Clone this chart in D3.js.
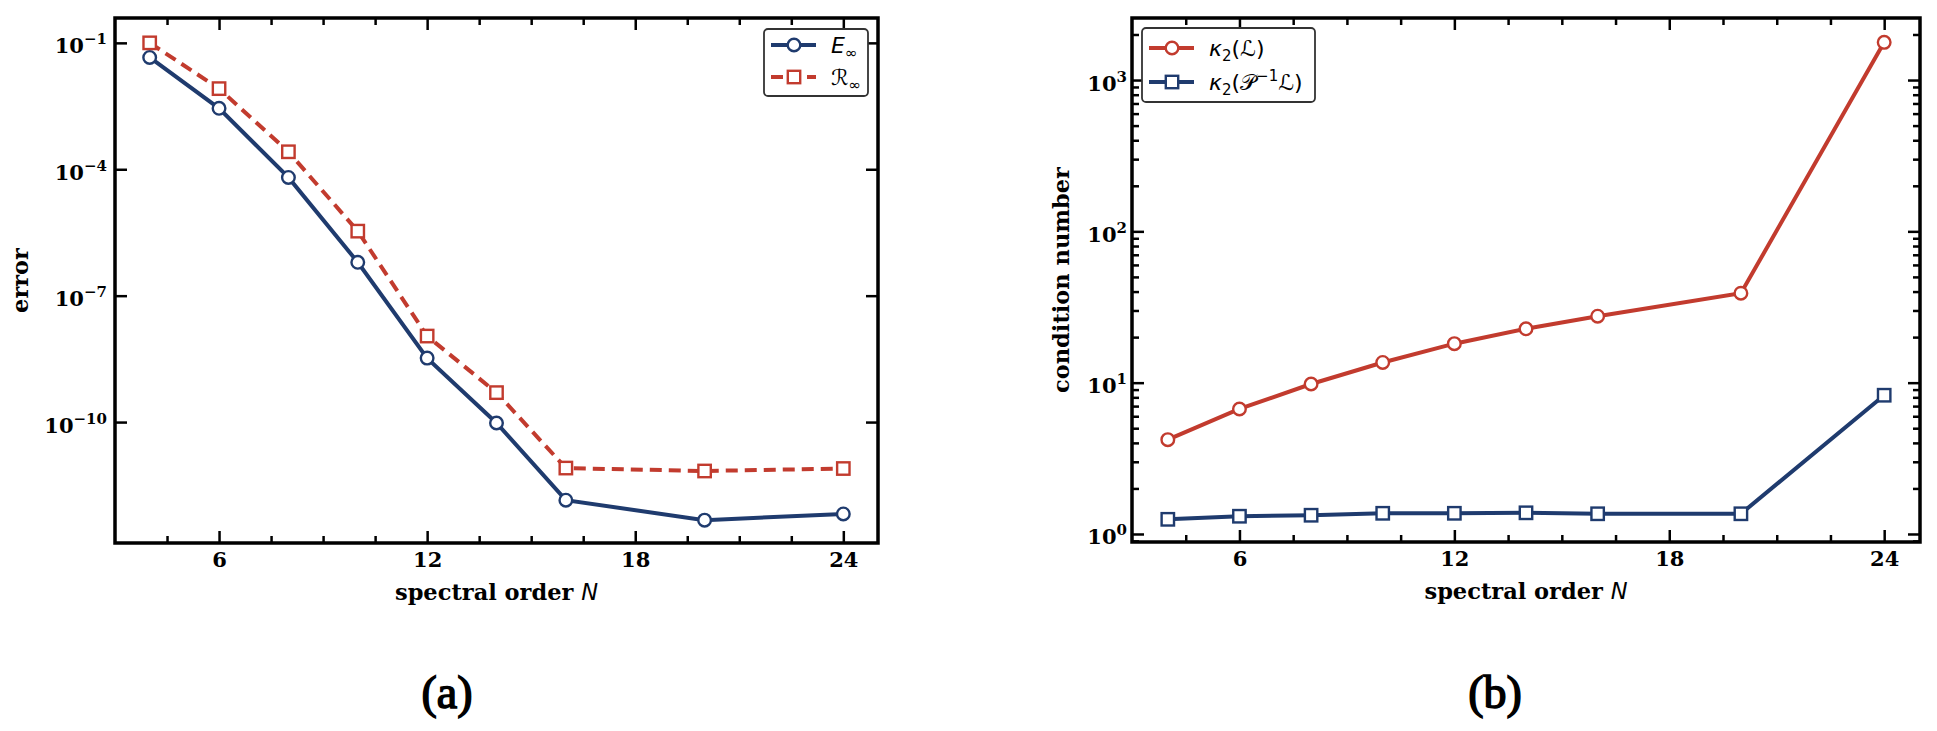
<!doctype html>
<meta charset="utf-8" />
<style>
    body { margin: 0; background: #fff; }
    svg text { font-family: "DejaVu Serif"; font-weight: bold; fill: #000; }
    svg .leg text { font-family: "DejaVu Sans"; font-weight: normal; }
</style>
<svg></svg>

<script src="https://cdn.jsdelivr.net/npm/d3@7/dist/d3.min.js"></script>

<script>
    // data
    var orders = [4, 6, 8, 10, 12, 14, 16, 20, 24];
    var errE = [4.5e-2, 2.8e-3, 6.4e-5, 6.2e-7, 3.3e-9, 9.5e-11, 1.4e-12, 4.7e-13, 6.6e-13];
    var errR = [1.0e-1, 8.2e-3, 2.6e-4, 3.4e-6, 1.1e-8, 5.0e-10, 8.1e-12, 6.9e-12, 7.9e-12];
    var kappaL = [4.2, 6.7, 9.8, 13.6, 18.1, 22.7, 27.5, 39, 1775];
    var kappaPL = [1.25, 1.31, 1.33, 1.37, 1.37, 1.38, 1.36, 1.36, 8.26];

    var xTicks = [6, 12, 18, 24];
    var xMinor = [4.5, 7.5, 9, 10.5, 13.5, 15, 16.5, 19.5, 21, 22.5];
    var errTicks = [1e-1, 1e-4, 1e-7, 1e-10];
    var condTicks = [1, 10, 100, 1000];
    var condMinor = [];
    [0.1, 1, 10, 100, 1000].forEach(function (d) {
        for (var k = 2; k <= 9; k++) condMinor.push(d * k);
    });

    var blue = '#1f3b6e';
    var red = '#c23b2e';

    var svg = d3.select('svg')
        .attr('width', 1937)
        .attr('height', 731)

    function supLabel(sel) {
        sel.selectAll('.tick text').each(function (d) {
            var e = Math.round(Math.log10(d));
            var t = d3.select(this).text('');
            t.append('tspan').text('10');
            t.append('tspan').attr('dy', -9).style('font-size', '15px')
                .text(String(e).replace('-', '\u2212'));
        })
    }

    function panel(opt) {
        var x = d3.scaleLinear().domain([3, 25]).range([opt.left, opt.right]);
        var y = d3.scaleLog().domain(opt.ydom).range([opt.bottom, opt.top]);
        var g = svg.append('g');

        // inward ticks on all four sides
        var ax = [
            [d3.axisBottom(x), 'translate(0,' + opt.bottom + ')', true],
            [d3.axisTop(x), 'translate(0,' + opt.top + ')', false]
        ];
        ax.forEach(function (a) {
            g.append('g').attr('transform', a[1])
                .call(a[0].tickValues(xMinor).tickFormat('').tickSizeInner(-7).tickSizeOuter(0));
            var m = g.append('g').attr('transform', a[1])
                .call(a[0].tickValues(xTicks).tickFormat(a[2] ? d3.format('d') : '').tickSizeInner(-12).tickSizeOuter(0).tickPadding(9));
            if (a[2]) m.selectAll('text').style('font-size', '21px');
        });

        var ay = [
            [d3.axisLeft(y), 'translate(' + opt.left + ',0)', true],
            [d3.axisRight(y), 'translate(' + opt.right + ',0)', false]
        ];
        ay.forEach(function (a) {
            if (opt.yMinor) {
                g.append('g').attr('transform', a[1])
                    .call(a[0].tickValues(opt.yMinor.filter(function (v) {
                        return v >= opt.ydom[0] && v <= opt.ydom[1];
                    })).tickFormat('').tickSizeInner(-7).tickSizeOuter(0));
            }
            var m = g.append('g').attr('transform', a[1])
                .call(a[0].tickValues(opt.yTicks).tickSizeInner(-12).tickSizeOuter(0).tickPadding(opt.pad));
            if (a[2]) {
                m.selectAll('text').style('font-size', '21px').attr('dy', 10);
                supLabel(m);
            } else {
                m.selectAll('text').remove();
            }
        });

        g.selectAll('.domain').remove();
        g.selectAll('.tick line').attr('stroke', '#000').attr('stroke-width', 2.5);

        g.append('rect')
            .attr('x', opt.left).attr('y', opt.top)
            .attr('width', opt.right - opt.left).attr('height', opt.bottom - opt.top)
            .attr('fill', 'none').attr('stroke', '#000').attr('stroke-width', 3.5);

        // axis titles
        var xl = g.append('text')
            .attr('x', (opt.left + opt.right) / 2).attr('y', opt.bottom + 57)
            .attr('text-anchor', 'middle').style('font-size', '22.5px');
        xl.append('tspan').text('spectral order ');
        xl.append('tspan').style('font-family', 'DejaVu Sans').style('font-weight', 'normal')
            .style('font-style', 'italic').text('N');

        g.append('text')
            .attr('transform', 'translate(' + opt.ylabX + ',' + (opt.top + opt.bottom) / 2 + ') rotate(-90)')
            .attr('text-anchor', 'middle').style('font-size', '22.5px')
            .text(opt.ylabel);

        g.append('text')
            .attr('x', opt.capX).attr('y', 708)
            .attr('text-anchor', 'middle')
            .style('font-family', 'Liberation Serif').style('font-weight', 'normal')
            .style('font-size', '46px')
            .style('stroke', '#000').style('stroke-width', '1.5px')
            .text(opt.caption);

        // series
        opt.series.forEach(function (s) {
            var pts = orders.map(function (n, i) { return [n, s.values[i]]; });
            var line = d3.line()
                .x(function (d) { return x(d[0]); })
                .y(function (d) { return y(d[1]); });
            g.append('path')
                .attr('d', line(pts))
                .attr('fill', 'none').attr('stroke', s.color).attr('stroke-width', 4)
                .attr('stroke-dasharray', s.dash || null);
            drawMarkers(g, pts.map(function (d) { return [x(d[0]), y(d[1])]; }), s);
        });

        // legend
        var L = opt.legend;
        var lg = g.append('g').attr('class', 'leg');
        lg.append('rect')
            .attr('x', L.x).attr('y', L.y).attr('width', L.w).attr('height', L.h)
            .attr('rx', 4).attr('fill', '#fff').attr('stroke', '#333').attr('stroke-width', 1.8);
        opt.series.forEach(function (s, i) {
            var ry = L.rows[i];
            lg.append('line')
                .attr('x1', L.x + 7).attr('x2', L.x + 52).attr('y1', ry).attr('y2', ry)
                .attr('stroke', s.color).attr('stroke-width', 4)
                .attr('stroke-dasharray', s.dash ? '12,6' : null);
            drawMarkers(lg, [[L.x + 30, ry]], s);
            var t = lg.append('text').attr('x', L.x + 67).attr('y', ry + 8).style('font-size', '22px');
            s.label(t);
        });
    }

    function drawMarkers(g, pts, s) {
        if (s.marker === 'circle') {
            g.selectAll(null).data(pts).enter().append('circle')
                .attr('cx', function (d) { return d[0]; })
                .attr('cy', function (d) { return d[1]; })
                .attr('r', 6.3)
                .attr('fill', '#fff').attr('stroke', s.color).attr('stroke-width', 2.4);
        } else {
            g.selectAll(null).data(pts).enter().append('rect')
                .attr('x', function (d) { return d[0] - 6.2; })
                .attr('y', function (d) { return d[1] - 6.2; })
                .attr('width', 12.4).attr('height', 12.4)
                .attr('fill', '#fff').attr('stroke', s.color).attr('stroke-width', 2.4);
        }
    }

    function sub(t, main, subText, italic) {
        t.append('tspan').style('font-style', italic ? 'italic' : 'normal').text(main);
        t.append('tspan').attr('dy', 5).style('font-size', '15px').text(subText);
        t.append('tspan').attr('dy', -5).text('');
    }

    panel({
        left: 115, right: 878, top: 18, bottom: 543,
        ydom: [Math.pow(10, -12.87), Math.pow(10, -0.41)],
        yTicks: errTicks, yMinor: null, pad: 8,
        ylabel: 'error', ylabX: 28, capX: 447, caption: '(a)',
        legend: { x: 764, y: 29, w: 104, h: 67, rows: [45, 77] },
        series: [
            { values: errE, color: blue, marker: 'circle', label: function (t) { sub(t, 'E', '\u221e', true); } },
            { values: errR, color: red, marker: 'square', dash: '12,7', label: function (t) { sub(t, '\u211b', '\u221e', false); } }
        ]
    });

    panel({
        left: 1132, right: 1920, top: 18, bottom: 542,
        ydom: [Math.pow(10, -0.053), Math.pow(10, 3.41)],
        yTicks: condTicks, yMinor: condMinor, pad: 5,
        ylabel: 'condition number', ylabX: 1069, capX: 1495, caption: '(b)',
        legend: { x: 1142, y: 28, w: 173, h: 74, rows: [48, 82] },
        series: [
            { values: kappaL, color: red, marker: 'circle', label: function (t) {
                t.append('tspan').style('font-style', 'italic').text('\u03ba');
                t.append('tspan').attr('dy', 5).style('font-size', '15px').text('2');
                t.append('tspan').attr('dy', -5).text('(\u2112)');
            } },
            { values: kappaPL, color: blue, marker: 'square', label: function (t) {
                t.append('tspan').style('font-style', 'italic').text('\u03ba');
                t.append('tspan').attr('dy', 5).style('font-size', '15px').text('2');
                t.append('tspan').attr('dy', -5).text('(\ud835\udcab');
                t.append('tspan').attr('dy', -9).style('font-size', '15px').text('\u22121');
                t.append('tspan').attr('dy', 9).text('\u2112)');
            } }
        ]
    });
</script>
